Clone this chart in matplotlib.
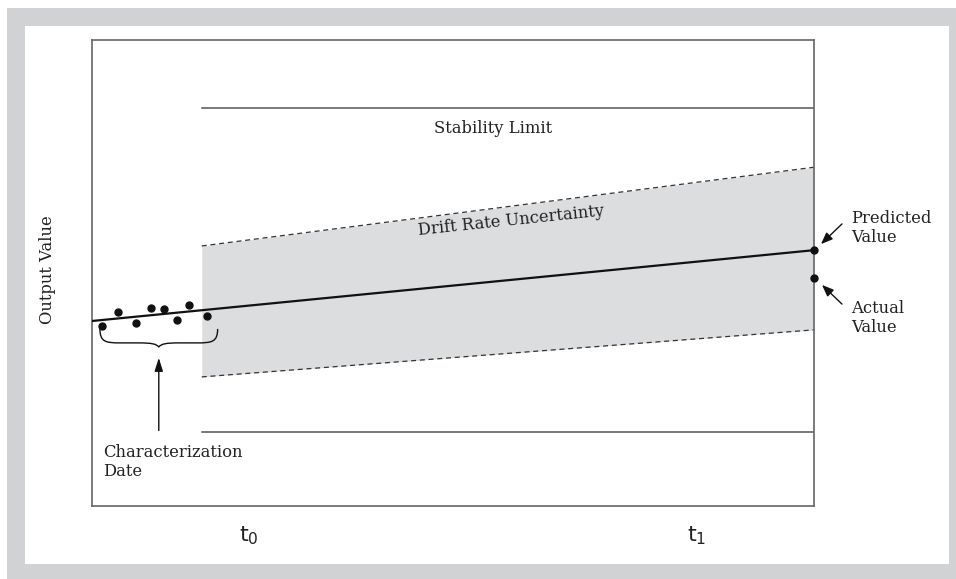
import numpy as np
import matplotlib
matplotlib.use("Agg")
import matplotlib.pyplot as plt
from matplotlib.patches import Rectangle, PathPatch
from matplotlib.path import Path

# data (time 0..10, output value 0..10)
t0 = 1.52
t_end = 10.0
stab_upper = 8.54
stab_lower = 1.59
band_top = [5.58, 7.27]
band_bot = [2.77, 3.78]
fit_x = [0.0, 10.0]
fit_y = [3.97, 5.49]
pts_x = [0.14, 0.36, 0.61, 0.82, 1.00, 1.18, 1.34, 1.59]
pts_y = [3.86, 4.16, 3.93, 4.25, 4.23, 3.99, 4.31, 4.08]
predicted = 5.49
actual = 4.89

plt.rcParams['mathtext.fontset'] = 'custom'
plt.rcParams['mathtext.rm'] = 'Liberation Sans'
plt.rcParams['mathtext.it'] = 'Liberation Sans'
serif = 'DejaVu Serif'
fs = 11.8
W, H = 956, 579

fig = plt.figure(figsize=(9.56, 5.79), dpi=100, facecolor='white')
# gray frame and white panel
fig.patches.append(Rectangle((7 / W, 0), 1, 1 - 8 / H, transform=fig.transFigure,
                             facecolor='#d1d2d4', edgecolor='none', zorder=-10))
fig.patches.append(Rectangle((25 / W, 1 - 564 / H), (949 - 25) / W, (564 - 26) / H,
                             transform=fig.transFigure, facecolor='white',
                             edgecolor='none', zorder=-9))

ax = fig.add_axes([92 / W, 1 - 506 / H, (814 - 92) / W, (506 - 40) / H])
ax.set_xlim(0, 10)
ax.set_ylim(0, 10)
ax.set_xticks([])
ax.set_yticks([])
for s in ax.spines.values():
    s.set_color('#666666')
    s.set_linewidth(1.2)

# uncertainty band
ax.fill_between([t0, t_end], band_bot, band_top, color='#dcdddf', lw=0, zorder=1)
ax.plot([t0, t_end], band_top, color='#333333', lw=0.9, ls=(0, (4, 3)), zorder=2)
ax.plot([t0, t_end], band_bot, color='#333333', lw=0.9, ls=(0, (4, 3)), zorder=2)

# stability limits
ax.plot([t0, t_end], [stab_upper, stab_upper], color='#555555', lw=1.1, zorder=2)
ax.plot([t0, t_end], [stab_lower, stab_lower], color='#555555', lw=1.1, zorder=2)

# fit line and points
ax.plot(fit_x, fit_y, color='#111111', lw=1.6, zorder=3)
ax.plot(pts_x, pts_y, 'o', color='#111111', ms=5, zorder=4, clip_on=False)
ax.plot([t_end, t_end], [predicted, actual], 'o', color='#111111', ms=5,
        zorder=5, clip_on=False)

# texts
ax.text(5.55, 8.1, 'Stability Limit', family=serif, fontsize=fs,
        ha='center', va='center', color='#222222')
ax.text(5.8, 6.12, 'Drift Rate Uncertainty', family=serif, fontsize=fs,
        ha='center', va='center', rotation=6, color='#222222')
fig.text(48 / W, 1 - 270 / H, 'Output Value', family=serif, fontsize=fs,
         rotation=90, ha='center', va='center', color='#222222')
fig.text(851 / W, 1 - 228 / H, 'Predicted\nValue', family=serif, fontsize=fs,
         ha='left', va='center', linespacing=1.15, color='#222222')
fig.text(851 / W, 1 - 318 / H, 'Actual\nValue', family=serif, fontsize=fs,
         ha='left', va='center', linespacing=1.15, color='#222222')
fig.text(103 / W, 1 - 462 / H, 'Characterization\nDate', family=serif,
         fontsize=fs, ha='left', va='center', linespacing=1.15, color='#222222')
fig.text(249 / W, 1 - 536 / H, r'$\mathregular{t_0}$', fontsize=16,
         ha='center', va='center', color='#222222')
fig.text(697 / W, 1 - 536 / H, r'$\mathregular{t_1}$', fontsize=16,
         ha='center', va='center', color='#222222')

# arrows to predicted / actual
akw = dict(arrowstyle='-|>,head_length=0.7,head_width=0.28', color='#111111', lw=1.0)
ax.annotate('', xy=(819 / W, 1 - 246 / H), xycoords='figure fraction',
            xytext=(844 / W, 1 - 222 / H), textcoords='figure fraction',
            arrowprops=akw, annotation_clip=False)
ax.annotate('', xy=(820 / W, 1 - 283 / H), xycoords='figure fraction',
            xytext=(844 / W, 1 - 306 / H), textcoords='figure fraction',
            arrowprops=akw, annotation_clip=False)

# curly brace under the characterization points
bx0, bx1, by_top, by_mid, by_tip = 0.11, 1.74, 3.80, 3.50, 3.41
bm = (bx0 + bx1) / 2
verts = [(bx0, by_top),
         (bx0, by_mid + 0.02), (bx0 + 0.08, by_mid), (bx0 + 0.28, by_mid),
         (bm - 0.28, by_mid),
         (bm - 0.1, by_mid), (bm - 0.03, by_mid - 0.02), (bm, by_tip),
         (bm + 0.03, by_mid - 0.02), (bm + 0.1, by_mid), (bm + 0.28, by_mid),
         (bx1 - 0.28, by_mid),
         (bx1 - 0.08, by_mid), (bx1, by_mid + 0.02), (bx1, by_top)]
codes = [Path.MOVETO,
         Path.CURVE4, Path.CURVE4, Path.CURVE4,
         Path.LINETO,
         Path.CURVE4, Path.CURVE4, Path.CURVE4,
         Path.CURVE4, Path.CURVE4, Path.CURVE4,
         Path.LINETO,
         Path.CURVE4, Path.CURVE4, Path.CURVE4]
ax.add_patch(PathPatch(Path(verts, codes), facecolor='none', edgecolor='#111111',
                       lw=1.0, zorder=4))
ax.annotate('', xy=(bm, 3.24), xytext=(bm, 1.56),
            arrowprops=dict(arrowstyle='-|>,head_length=0.8,head_width=0.25',
                            color='#111111', lw=1.0))

fig.savefig('out.png', dpi=100, facecolor='white')
